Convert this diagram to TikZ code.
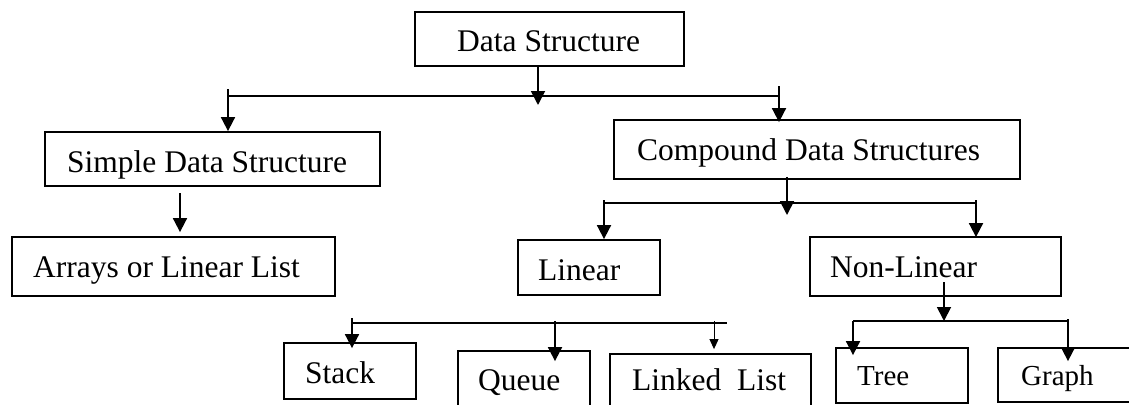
\documentclass[tikz,border=0pt]{standalone}
\usepackage{fontspec}
\setmainfont{Liberation Serif}
\usetikzlibrary{arrows.meta}

\begin{document}
\begin{tikzpicture}[x=1pt, y=-1pt,
    box/.style={draw, line width=1.8pt, inner sep=0pt, rectangle},
    txt/.style={anchor=base west, inner sep=0pt, font=\fontsize{31.5}{36}\selectfont},
    smalltxt/.style={anchor=base west, inner sep=0pt, font=\fontsize{29}{34}\selectfont},
    wire/.style={line width=1.8pt},
    arr/.style={line width=1.8pt, -{Triangle[length=14pt, width=14pt]}},
    thinarr/.style={line width=1pt, -{Triangle[length=10pt, width=9pt]}}]

  % page frame
  \useasboundingbox (0,0) rectangle (1129,404);
  \clip (0,0) rectangle (1129,404);
  \fill[white] (0,0) rectangle (1129,404);

  % ---------- boxes ----------
  \node[box, minimum width=269pt, minimum height=54pt] (ds)   at (549.5,39)  {};
  \node[box, minimum width=335pt, minimum height=54pt] (sds)  at (212.5,159) {};
  \node[box, minimum width=406pt, minimum height=59pt] (cds)  at (817,149.5) {};
  \node[box, minimum width=323pt, minimum height=59pt] (arr)  at (173.5,266.5) {};
  \node[box, minimum width=142pt, minimum height=55pt] (lin)  at (589,267.5) {};
  \node[box, minimum width=251pt, minimum height=59pt] (nl)   at (935.5,266.5) {};
  \node[box, minimum width=132pt, minimum height=56pt] (stk)  at (350,371) {};
  \node[box, minimum width=132pt, minimum height=60pt] (que)  at (524,381) {};
  \node[box, minimum width=201pt, minimum height=60pt] (ll)   at (710.5,384) {};
  \node[box, minimum width=132pt, minimum height=55pt] (tree) at (902,375.5) {};
  \node[box, minimum width=142pt, minimum height=54pt] (gr)   at (1069,375) {};

  % ---------- labels ----------
  \node[txt] (tds)  at (457,52)  {Data Structure};
  \node[txt] (tsds) at (67,172)  {Simple Data Structure};
  \node[txt] (tcds) at (637,160) {Compound Data Structures};
  \node[txt] (tarr) at (33,277)  {Arrays or Linear List};
  \node[txt] (tlin) at (538,280) {Linear};
  \node[txt] (tnl)  at (830,277) {Non-Linear};
  \node[txt] (tstk) at (305,383) {Stack};
  \node[txt] (tque) at (478,390) {Queue};
  \node[txt] (tll)  at (632,390) {Linked\ \ List};
  \node[smalltxt] (ttree) at (857,385) {Tree};
  \node[smalltxt] (tgr)   at (1021,385) {Graph};

  % ---------- junction points ----------
  \coordinate (j0)  at (538,96);
  \coordinate (j0l) at (228,89);
  \coordinate (j0r) at (779,86);
  \coordinate (j1)  at (787,203);
  \coordinate (j1l) at (604,200);
  \coordinate (j1r) at (976,200);
  \coordinate (j2)  at (944,321);
  \coordinate (j2l) at (853,321);
  \coordinate (j2r) at (1068,319);
  \coordinate (j3l) at (352,318);
  \coordinate (j3m) at (555,321);
  \coordinate (j3r) at (714,321);
  \coordinate (j3e) at (727,323);
  \coordinate (sdsout) at (180,193);
  \coordinate (nlout)  at (944,282);

  % ---------- Data Structure branch ----------
  \draw[arr] (ds.south -| j0) -- ([yshift=-9pt]j0);
  \draw[wire] (j0l |- j0) -- (j0r |- j0);
  \draw[arr] (j0l) -- (sds.north -| j0l);
  \draw[arr] (j0r) -- ([yshift=-3pt]cds.north -| j0r);

  % ---------- Simple Data Structure ----------
  \draw[arr] (sdsout) -- ([yshift=4pt]arr.north -| sdsout);

  % ---------- Compound Data Structures branch ----------
  \draw[arr] ([yshift=3pt]cds.south -| j1) -- ([yshift=-12pt]j1);
  \draw[wire] (j1l |- j1) -- (j1r |- j1);
  \draw[arr] (j1l) -- (lin.north -| j1l);
  \draw[arr] (j1r) -- ([yshift=-1pt]nl.north -| j1r);

  % ---------- Linear branch ----------
  \draw[wire] (j3l |- j3e) -- (j3e);
  \draw[arr] (j3l) -- ([yshift=-6pt]stk.north -| j3l);
  \draw[arr] (j3m) -- ([yshift=-11pt]que.north -| j3m);
  \draw[thinarr] (j3r) -- ([yshift=4pt]ll.north -| j3r);

  % ---------- Non-Linear branch ----------
  \draw[arr] (nlout) -- (j2);
  \draw[wire] (j2l) -- (j2r |- j2);
  \draw[arr] (j2l) -- ([yshift=-8pt]tree.north -| j2l);
  \draw[arr] (j2r) -- ([yshift=-14pt]gr.north -| j2r);
\end{tikzpicture}
\end{document}
